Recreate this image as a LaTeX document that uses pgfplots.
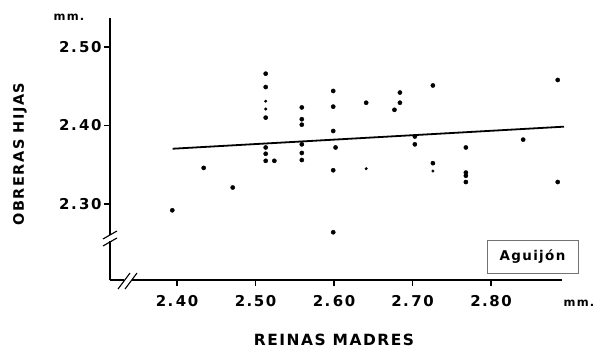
\documentclass[border=0pt]{standalone}
\usepackage{fontspec}
\setmainfont{DejaVu Sans}[LetterSpace=10]
\usepackage{pgfplots}
\pgfplotsset{compat=1.18}
\begin{document}
\begin{tikzpicture}
\path[use as bounding box] (-110bp,-79bp) rectangle (488bp,280bp);
\begin{axis}[
  scale only axis, width=452bp, height=262bp,
  xmin=2.31465, xmax=2.89045, ymin=2.20318, ymax=2.53694,
  axis lines=left,
  every inner x axis line/.append style={-},
  every inner y axis line/.append style={-},
  axis line style={-, line width=2.2bp, black},
  xtick={2.4,2.5,2.6,2.7,2.8}, xticklabels={2.\,40,2.50,2.\,60,2.\,70,2.80},
  ytick={2.3,2.4,2.5}, yticklabels={2.\,30,2.\,40,2.\,50},
  tick align=outside, major tick length=6bp, tick style={line width=1.2bp, black},
  ticklabel style={font=\fontsize{15}{15}\selectfont\bfseries},
  xticklabel style={yshift=-6bp},
  yticklabel style={xshift=1bp},
  clip=false,
]
\addplot[only marks, mark=*, mark size=2.1bp, black] table {
x y
2.394 2.292
2.434 2.346
2.471 2.321
2.513 2.466
2.513 2.449
2.513 2.410
2.513 2.372
2.513 2.364
2.513 2.355
2.524 2.355
2.559 2.423
2.559 2.408
2.559 2.401
2.559 2.376
2.559 2.365
2.559 2.356
2.599 2.444
2.599 2.424
2.599 2.393
2.602 2.372
2.599 2.343
2.599 2.264
2.641 2.429
2.684 2.442
2.684 2.429
2.677 2.420
2.703 2.386
2.703 2.376
2.726 2.451
2.726 2.352
2.768 2.372
2.768 2.340
2.768 2.336
2.768 2.328
2.841 2.382
2.885 2.458
2.885 2.328
};
\addplot[only marks, mark=*, mark size=1.3bp, black] table {
x y
2.513 2.431
2.513 2.421
2.641 2.345
2.726 2.342
};
\addplot[black, line width=1.8bp] coordinates {(2.3945,2.3704) (2.893,2.3985)};
\coordinate (yb) at (axis cs:2.31465,2.2567);
\coordinate (xb) at (axis cs:2.3376,2.20318);
\end{axis}
\fill[white] ([shift={(-3bp,-3bp)}]yb) rectangle ([shift={(3bp,3bp)}]yb);
\draw[line width=1.1bp] ([shift={(-7bp,-8bp)}]yb) -- ([shift={(7bp,0bp)}]yb);
\draw[line width=1.1bp] ([shift={(-7bp,-1bp)}]yb) -- ([shift={(7bp,7bp)}]yb);
\fill[white] ([shift={(-4bp,-3bp)}]xb) rectangle ([shift={(4bp,3bp)}]xb);
\draw[line width=1.1bp] ([shift={(-10bp,-9bp)}]xb) -- ([shift={(2bp,7bp)}]xb);
\draw[line width=1.1bp] ([shift={(-3bp,-9bp)}]xb) -- ([shift={(9bp,7bp)}]xb);
\node[font=\fontsize{11.5}{11.5}\selectfont\bfseries] at (-41bp,263bp) {mm.};
\node[font=\fontsize{14.5}{14.5}\selectfont\bfseries, rotate=90] at (-90bp,126bp) {OBRERAS HIJAS};
\node[font=\fontsize{15.5}{15.5}\selectfont\bfseries] at (224bp,-60bp) {REINAS MADRES};
\node[font=\fontsize{11.5}{11.5}\selectfont\bfseries] at (469bp,-23bp) {mm.};
\node[draw=black!55, line width=0.8bp, minimum width=91bp, minimum height=33bp, inner sep=0pt,
  font=\fontsize{13.5}{13.5}\selectfont\bfseries] at (422.5bp,23.5bp) {Aguijón};
\end{tikzpicture}
\end{document}
